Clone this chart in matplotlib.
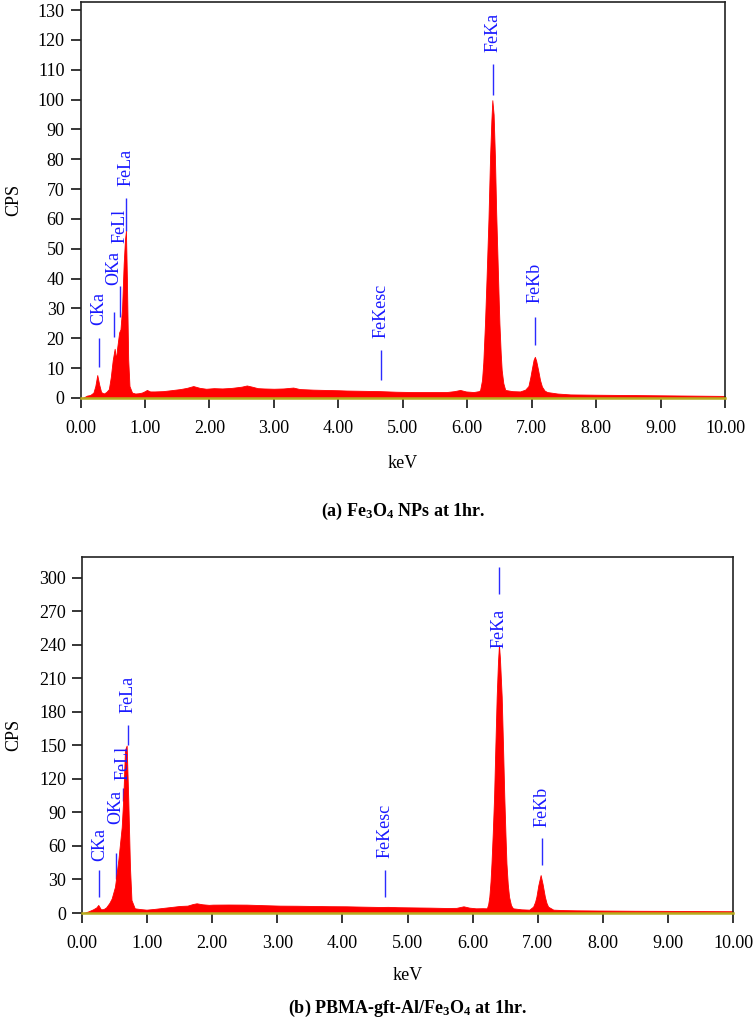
import numpy as np
import matplotlib
matplotlib.use('Agg')
import matplotlib.pyplot as plt

# 字体设置
plt.rcParams['font.family'] = ['Liberation Serif', 'DejaVu Serif']
plt.rcParams['mathtext.default'] = 'regular'

# (a) Fe3O4 NPs 能谱数据
energy_a = [0.00, 0.05, 0.10, 0.15, 0.20, 0.23, 0.26, 0.29, 0.32, 0.36, 0.40, 0.44, 0.47, 0.50,
            0.53, 0.55, 0.57, 0.60, 0.62, 0.645, 0.67, 0.69, 0.705, 0.72, 0.74, 0.76, 0.80, 0.85,
            0.90, 0.95, 1.00, 1.03, 1.08, 1.15, 1.28, 1.40, 1.55, 1.65, 1.75, 1.85, 1.95, 2.07,
            2.20, 2.35, 2.50, 2.58, 2.66, 2.75, 2.84, 3.00, 3.15, 3.30, 3.40, 3.61, 3.80, 4.00,
            4.13, 4.40, 4.65, 4.90, 5.16, 5.40, 5.68, 5.80, 5.89, 5.98, 6.10, 6.18, 6.20, 6.23,
            6.25, 6.276, 6.30, 6.33, 6.355, 6.375, 6.39, 6.41, 6.43, 6.45, 6.47, 6.49, 6.50,
            6.52, 6.535, 6.56, 6.59, 6.70, 6.82, 6.90, 6.95, 6.98, 7.00, 7.03, 7.05, 7.07, 7.10,
            7.13, 7.16, 7.20, 7.24, 7.40, 7.60, 8.00, 8.50, 9.00, 9.50, 10.00]
cps_a = [0.0, 0.2, 0.8, 1.0, 1.8, 4.0, 7.7, 4.5, 2.0, 1.5, 2.0, 3.0, 7.0, 12.7,
         16.5, 13.0, 17.0, 22.0, 23.0, 30.0, 45.0, 53.0, 56.0, 40.0, 13.0, 4.0, 1.8, 1.5,
         1.6, 1.8, 2.3, 2.7, 2.2, 2.2, 2.3, 2.6, 3.0, 3.4, 4.0, 3.4, 3.1, 3.3,
         3.2, 3.4, 3.8, 4.2, 3.8, 3.3, 3.2, 3.1, 3.2, 3.5, 3.0, 2.8, 2.7, 2.6,
         2.5, 2.4, 2.3, 2.1, 2.0, 2.0, 2.0, 2.3, 2.7, 2.2, 2.0, 2.3, 2.6, 6.0,
         12.0, 25.0, 40.0, 60.0, 81.0, 93.0, 99.8, 95.0, 81.0, 62.0, 47.0, 32.0, 25.0,
         15.0, 9.4, 5.0, 2.7, 2.3, 2.2, 2.8, 4.0, 7.0, 9.4, 12.8, 13.8, 12.5, 9.4,
         6.0, 3.8, 2.5, 2.0, 1.5, 1.2, 1.1, 1.0, 0.9, 0.8, 0.7]

# (b) PBMA-gft-Al/Fe3O4 能谱数据
energy_b = [0.00, 0.05, 0.10, 0.17, 0.22, 0.25, 0.29, 0.33, 0.37, 0.42, 0.456, 0.507, 0.558,
            0.61, 0.635, 0.66, 0.686, 0.711, 0.737, 0.76, 0.81, 0.90, 0.99, 1.10, 1.25, 1.40,
            1.50, 1.62, 1.70, 1.76, 1.85, 1.95, 2.01, 2.25, 2.53, 2.80, 3.04, 3.30, 3.55, 3.80,
            4.06, 4.30, 4.58, 4.70, 4.85, 5.09, 5.35, 5.60, 5.75, 5.86, 5.95, 6.05, 6.15, 6.22,
            6.24, 6.257, 6.275, 6.29, 6.31, 6.33, 6.35, 6.37, 6.39, 6.405, 6.42, 6.447, 6.467,
            6.487, 6.505, 6.52, 6.54, 6.56, 6.59, 6.62, 6.75, 6.87, 6.93, 6.96, 6.98, 7.01,
            7.045, 7.075, 7.11, 7.135, 7.16, 7.24, 7.40, 7.60, 8.00, 8.50, 9.00, 9.50, 10.00]
cps_b = [0.0, 0.5, 1.5, 3.3, 5.0, 7.2, 3.3, 3.5, 5.0, 9.0, 13.0, 23.6, 47.5,
         77.0, 104.0, 146.0, 150.0, 101.0, 41.0, 11.6, 4.2, 3.5, 3.0, 3.6, 4.6, 5.6,
         6.3, 6.6, 8.0, 8.7, 7.8, 7.3, 7.5, 7.6, 7.5, 7.0, 6.6, 6.5, 6.3, 6.1,
         6.0, 5.7, 5.4, 5.5, 5.2, 5.0, 4.8, 4.5, 4.6, 6.0, 4.8, 4.2, 4.3, 4.2,
         8.0, 14.6, 28.0, 44.5, 72.0, 104.0, 150.0, 193.7, 225.0, 240.0, 228.0, 193.7, 150.0,
         104.0, 70.0, 44.5, 26.0, 14.6, 7.0, 4.2, 3.3, 3.0, 5.7, 10.0, 14.6, 25.0,
         34.0, 26.0, 14.6, 9.0, 5.7, 3.0, 2.6, 2.4, 2.2, 2.0, 1.9, 1.7, 1.6]

# 元素标注: 名称, 能量, 竖线上端, 竖线下端, 文字位置
labels_a = ['CKa', 'OKa', 'FeLl', 'FeLa', 'FeKesc', 'FeKa', 'FeKb']
label_x_a = [0.28, 0.515, 0.61, 0.705, 4.66, 6.40, 7.05]
line_top_a = [20.0, 28.8, 37.5, 67.0, 16.0, 112.0, 27.0]
line_bot_a = [10.4, 20.4, 27.0, 56.0, 6.0, 101.5, 17.7]
text_y_a = [24.5, 38.0, 52.0, 71.0, 20.0, 116.0, 32.0]
text_va_a = ['bottom'] * 7

labels_b = ['CKa', 'OKa', 'FeLl', 'FeLa', 'FeKesc', 'FeKa', 'FeKb']
label_x_b = [0.266, 0.52, 0.63, 0.70, 4.65, 6.40, 7.06]
line_top_b = [38.5, 54.0, 112.0, 168.0, 38.5, 310.0, 67.0]
line_bot_b = [14.0, 30.0, 100.0, 150.0, 14.0, 286.0, 43.0]
text_y_b = [47.0, 80.0, 119.0, 179.0, 49.0, 272.0, 77.0]
text_va_b = ['bottom', 'bottom', 'bottom', 'bottom', 'bottom', 'top', 'bottom']

x_ticks = np.arange(0, 10.01, 1.0)
y_ticks_a = np.arange(0, 131, 10)
y_ticks_b = np.arange(0, 301, 30)

fig = plt.figure(figsize=(7.54, 10.27), dpi=100)


def draw_panel(rect, energy, cps, ymax, yticks, names, lx, ltop, lbot, ty, tva, caption, cy, ky):
    ax = fig.add_axes(rect)
    ax.fill_between(energy, 0, cps, color='#ff0000', lw=0.6, zorder=2)
    ax.vlines(lx, lbot, ltop, colors='#2b2bff', lw=1.0, zorder=1)
    for name, x, y, va in zip(names, lx, ty, tva):
        ax.text(x, y, name, rotation=90, ha='center', va=va, color='#1a1aff', fontsize=13)
    ax.set_xlim(0, 10)
    ax.set_ylim(0, ymax)
    ax.set_xticks(x_ticks)
    ax.set_xticklabels(['%.2f' % v for v in x_ticks])
    ax.set_yticks(yticks)
    ax.tick_params(direction='out', length=7.5, width=1.1, labelsize=13)
    ax.tick_params(axis='x', pad=8)
    ax.tick_params(axis='y', pad=4)
    for s in ['left', 'top', 'right']:
        ax.spines[s].set_linewidth(1.2)
        ax.spines[s].set_color('#222222')
    ax.spines['bottom'].set_color('#b8ac1c')
    ax.spines['bottom'].set_linewidth(1.8)
    ax.spines['bottom'].set_zorder(3)
    # 坐标轴标题和图注
    fig.text(14 / 754, rect[1] + rect[3] * 0.5, 'CPS', rotation=90, ha='center', va='center', fontsize=13)
    xc = rect[0] + rect[2] / 2
    fig.text(xc, ky, 'keV', ha='center', va='center', fontsize=13)
    fig.text(xc, cy, caption, ha='center', va='center', fontsize=13, fontweight='bold')
    return ax


draw_panel([80.5 / 754, 1 - 398 / 1027, 644.5 / 754, 396 / 1027], energy_a, cps_a, 132.7, y_ticks_a,
           labels_a, label_x_a, line_top_a, line_bot_a, text_y_a, text_va_a,
           r'(a) Fe$_3$O$_4$ NPs at 1hr.', 1 - 511 / 1027, 1 - 463 / 1027)
draw_panel([82 / 754, 1 - 913 / 1027, 651 / 754, 356 / 1027], energy_b, cps_b, 318.8, y_ticks_b,
           labels_b, label_x_b, line_top_b, line_bot_b, text_y_b, text_va_b,
           r'(b) PBMA-gft-Al/Fe$_3$O$_4$ at 1hr.', 1 - 1008 / 1027, 1 - 975 / 1027)

plt.savefig('out.png', dpi=100)
